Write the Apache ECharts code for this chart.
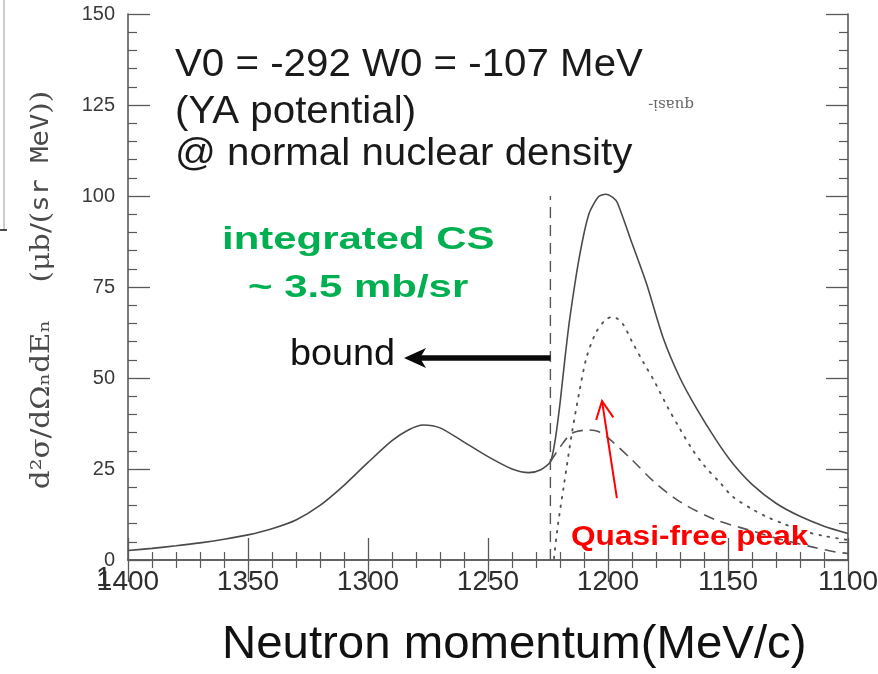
<!DOCTYPE html>
<html>
<head>
<meta charset="utf-8">
<script src="https://cdn.jsdelivr.net/npm/echarts@6/dist/echarts.min.js"></script>
<style>
  html, body { margin: 0; padding: 0; background: #ffffff; }
  #chart { width: 878px; height: 674px; }
</style>
</head>
<body>
<div id="chart"></div>
<script>
// Neutron momentum axis (MeV/c) and spectra d2sigma/dOmega dE (microbarn / (sr MeV))
const totalMomentum = [1400, 1390, 1380, 1370, 1360, 1350, 1340, 1330, 1320, 1310, 1300, 1290, 1283, 1277, 1270, 1260, 1250, 1240, 1233, 1228, 1224, 1222, 1220, 1218, 1216, 1212, 1208, 1204, 1201, 1198, 1196, 1190, 1184, 1177, 1170, 1163, 1155, 1148, 1140, 1130, 1120, 1110, 1100];
const totalValue    = [2.6, 3.2, 3.9, 4.7, 5.7, 6.9, 8.6, 11.0, 15.0, 20.5, 26.8, 32.8, 35.8, 37.1, 36.3, 32.4, 28.4, 25.0, 24.0, 24.8, 27.0, 33.0, 43.0, 55.0, 66.0, 83.0, 95.0, 99.8, 100.5, 99.6, 98.0, 87.0, 76.0, 61.0, 50.0, 41.5, 33.0, 26.5, 20.8, 15.6, 12.0, 9.3, 7.3];

const quasiMomentum = [1222.5, 1221, 1218.5, 1215, 1212, 1209, 1205, 1201, 1198, 1194, 1190, 1185, 1181, 1175, 1170, 1165, 1160, 1153, 1148, 1140, 1134, 1127, 1120, 1110, 1100];
const quasiValue    = [0.5, 9.0, 20.0, 35.0, 46.0, 55.5, 62.5, 66.0, 66.8, 65.0, 60.0, 54.0, 49.5, 41.8, 36.0, 30.5, 26.0, 21.0, 17.4, 14.0, 11.9, 10.0, 8.2, 6.6, 5.5];

const boundMomentum = [1224, 1220, 1215, 1208, 1204, 1199, 1190, 1180, 1169, 1155, 1141, 1127, 1115, 1105, 1100];
const boundValue    = [27.0, 31.0, 34.8, 35.7, 35.3, 33.0, 27.5, 21.0, 15.6, 11.0, 8.2, 5.5, 3.6, 2.2, 1.8];

// Threshold marker (vertical dashed line)
const thresholdMomentum = [1224, 1224];
const thresholdValue    = [0, 100];

// Annotation arrows, in data units [momentum, value]
const boundArrow = { from: [1224, 55.5], to: [1285, 55.5] };
const peakArrow  = { from: [1196.3, 17], to: [1202.5, 43.7] };

const xTicks = { min: 1100, max: 1400, interval: 50 };
const yTicks = { min: 0, max: 150, interval: 25 };

const zip = (xs, ys) => xs.map((x, i) => [x, ys[i]]);

const axisGray = '#5a5a5a';
const curveGray = '#4a4a4a';

const chart = echarts.init(document.getElementById('chart'), null, { renderer: 'canvas' });

function xAxisDef(pos, labels) {
  return {
    type: 'value', position: pos, inverse: true,
    min: xTicks.min, max: xTicks.max, interval: xTicks.interval,
    axisLine: { show: true, lineStyle: { color: axisGray, width: 1.6 } },
    axisTick: { show: true, inside: true, length: 22, lineStyle: { color: axisGray, width: 1.3 } },
    minorTick: { show: true, splitNumber: 5, length: 8, lineStyle: { color: axisGray, width: 1.2 } },
    splitLine: { show: false },
    axisLabel: labels ? {
      show: true, fontSize: 28, color: '#2e2e2e', margin: 8,
      fontFamily: 'Liberation Sans, Arial, sans-serif',
      formatter: (v) => String(v)
    } : { show: false }
  };
}
function yAxisDef(pos, labels) {
  return {
    type: 'value', position: pos,
    min: yTicks.min, max: yTicks.max, interval: yTicks.interval,
    axisLine: { show: true, lineStyle: { color: axisGray, width: 1.6 } },
    axisTick: { show: true, inside: true, length: 22, lineStyle: { color: axisGray, width: 1.3 } },
    minorTick: { show: true, splitNumber: 5, length: 9, lineStyle: { color: axisGray, width: 1.2 } },
    splitLine: { show: false },
    axisLabel: labels ? {
      show: true, fontSize: 20, color: '#3a3a3a', margin: 13,
      fontFamily: 'Liberation Sans, Arial, sans-serif',
      formatter: (v) => String(v)
    } : { show: false }
  };
}

chart.setOption({
  animation: false,
  backgroundColor: '#ffffff',
  grid: { left: 128, right: 30, top: 14, bottom: 114, containLabel: false, outerBoundsMode: 'none' },
  xAxis: [xAxisDef('bottom', true), xAxisDef('top', false)],
  yAxis: [yAxisDef('left', true), yAxisDef('right', false)],
  series: [
    {
      name: 'total', type: 'line', data: zip(totalMomentum, totalValue),
      smooth: 0.25, showSymbol: false, clip: true,
      lineStyle: { color: curveGray, width: 1.6 }
    },
    {
      name: 'quasi-free', type: 'line', data: zip(quasiMomentum, quasiValue),
      smooth: 0.3, showSymbol: false,
      lineStyle: { color: '#555555', width: 1.9, type: [1.6, 7], cap: 'round' }
    },
    {
      name: 'bound', type: 'line', data: zip(boundMomentum, boundValue),
      smooth: 0.3, showSymbol: false,
      lineStyle: { color: '#555555', width: 1.6, type: [11, 7] }
    },
    {
      name: 'threshold', type: 'line', data: zip(thresholdMomentum, thresholdValue),
      showSymbol: false,
      lineStyle: { color: '#555555', width: 1.4, type: [11, 7] }
    }
  ]
});

const px = (pt) => chart.convertToPixel({ xAxisIndex: 0, yAxisIndex: 0 }, pt);

function sansText(text, x, y, size, color, scaleX, bold) {
  return {
    type: 'text', x: x, y: y, scaleX: scaleX || 1, z: 10,
    style: {
      text: text, fill: color,
      font: (bold ? 'bold ' : '') + size + 'px "Liberation Sans", Arial, sans-serif',
      textAlign: 'left', textVerticalAlign: 'middle'
    }
  };
}

// Bound-state arrow: thick shaft with a stealth head
const bA = px(boundArrow.from), bB = px(boundArrow.to);
// Quasi-free arrow: thin shaft with an open head
const qA = px(peakArrow.from), qB = px(peakArrow.to);
const qAng = Math.atan2(qA[1] - qB[1], qA[0] - qB[0]);
const barb = 20, spread = 0.45;
const qL = [qB[0] + barb * Math.cos(qAng + spread), qB[1] + barb * Math.sin(qAng + spread)];
const qR = [qB[0] + barb * Math.cos(qAng - spread), qB[1] + barb * Math.sin(qAng - spread)];

chart.setOption({
  graphic: [
    // panel corner left of the plot
    { type: 'line', shape: { x1: 4, y1: 0, x2: 4, y2: 230 }, style: { stroke: '#9a9a9a', lineWidth: 1 } },
    { type: 'line', shape: { x1: 0, y1: 230, x2: 7, y2: 230 }, style: { stroke: '#111', lineWidth: 1.5 } },

    // y axis title
    {
      type: 'text', x: 42, y: 290, rotation: Math.PI / 2, scaleX: 1.13, z: 10,
      style: {
        text: '{m|d²σ/dΩₙdEₙ}{m|    (μb/(}{t|sr MeV}{m|))}',
        textAlign: 'center', textVerticalAlign: 'middle',
        rich: {
          m: { fontFamily: 'DejaVu Serif', fontSize: 26, fill: '#4a4a4a' },
          t: { fontFamily: 'DejaVu Sans Mono', fontSize: 24, fill: '#4a4a4a' }
        }
      }
    },

    // x axis title
    sansText('Neutron momentum(MeV/c)', 222, 645, 46, '#111111', 1.03, false),

    // model description
    sansText('V0 = -292 W0 = -107 MeV', 175, 66, 38, '#1a1a1a', 1.06, false),
    sansText('(YA potential)', 175, 113, 38, '#1a1a1a', 1.06, false),
    sansText('@ normal nuclear density', 175, 155, 38, '#1a1a1a', 1.06, false),

    // integrated cross section
    sansText('integrated CS', 222, 240, 32, '#00b050', 1.31, true),
    sansText('~ 3.5 mb/sr', 248, 288, 32, '#00b050', 1.31, true),

    // bound label and arrow
    sansText('bound', 290, 355, 36, '#111111', 1.05, false),
    { type: 'line', z: 10, shape: { x1: bA[0], y1: bA[1], x2: bB[0] + 16, y2: bB[1] },
      style: { stroke: '#0a0a0a', lineWidth: 5.5 } },
    { type: 'polygon', z: 10,
      shape: { points: [[bB[0], bB[1]], [bB[0] + 22, bB[1] - 10], [bB[0] + 16, bB[1]], [bB[0] + 22, bB[1] + 10]] },
      style: { fill: '#0a0a0a' } },

    // quasi-free peak label and arrow
    sansText('Quasi-free peak', 571, 537, 28, '#ff0000', 1.13, true),
    { type: 'line', z: 10, shape: { x1: qA[0], y1: qA[1], x2: qB[0], y2: qB[1] },
      style: { stroke: '#ff0000', lineWidth: 2 } },
    { type: 'polyline', z: 10, shape: { points: [qL, [qB[0], qB[1]], qR] },
      style: { stroke: '#ff0000', lineWidth: 2, fill: null } },

    // stray mirrored caption and label overprint
    { type: 'text', x: 671, y: 104, rotation: Math.PI, z: 10,
      style: { text: 'quasi-', font: '15px "DejaVu Serif", serif', fill: '#666666',
               textAlign: 'center', textVerticalAlign: 'middle' } },
    { type: 'text', x: 96, y: 578, z: 10,
      style: { text: '1', font: '28px "Liberation Sans", Arial, sans-serif', fill: '#2e2e2e',
               textAlign: 'left', textVerticalAlign: 'middle' } }
  ]
});
</script>
</body>
</html>
